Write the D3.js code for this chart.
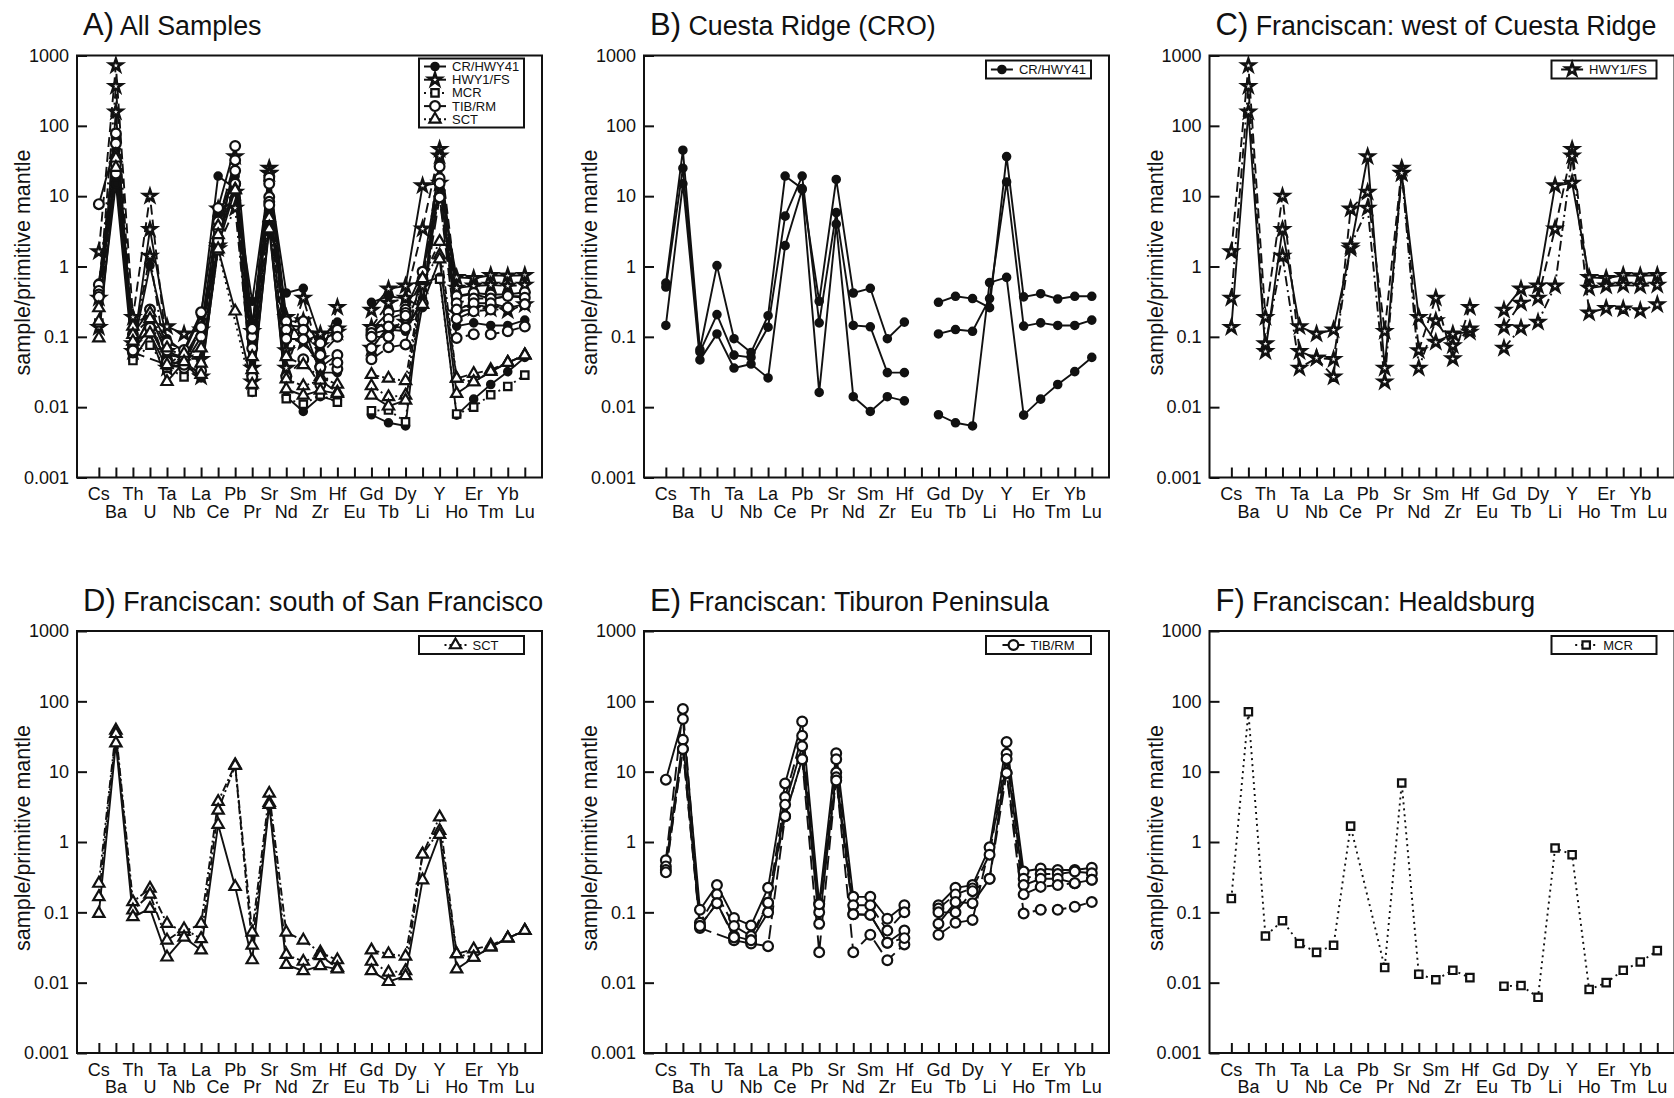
<!DOCTYPE html>
<html>
<head>
<meta charset="utf-8">
<script src="https://cdn.jsdelivr.net/npm/d3@7"></script>
<style>
body { margin:0; background:#fff; }
text { font-family: "Liberation Sans", Arial, Helvetica, sans-serif; fill:#111; }
</style>
</head>
<body>
<div class="container"></div>
<script>
// element order along the x axis
var elements = ["Cs","Ba","Th","U","Ta","Nb","La","Ce","Pb","Pr","Sr","Nd","Sm","Zr","Hf","Eu",
                "Gd","Tb","Dy","Li","Y","Ho","Er","Tm","Yb","Lu"];
var yTicks = [0.001, 0.01, 0.1, 1, 10, 100, 1000];
var yTickLabels = ["0.001","0.01","0.1","1","10","100","1000"];

// sample/primitive mantle values, one row per sample (null = not plotted)
var crSamples = [
  [0.58, 45, 0.066, 1.03, 0.094, 0.06, 0.2, 19.3, 12.8, 0.32, 17.3, 0.42, 0.49, 0.094, 0.162, null, 0.31, 0.377, 0.35, 0.26, 36.6, 0.37, 0.41, 0.345, 0.377, 0.377],
  [0.51, 25, 0.061, 0.207, 0.055, 0.051, 0.137, 5.2, 19.3, 0.158, 5.85, 0.145, 0.139, 0.031, 0.031, null, 0.11, 0.127, 0.12, 0.35, 15.9, 0.142, 0.158, 0.145, 0.145, 0.173],
  [0.145, 15, 0.047, 0.11, 0.036, 0.041, 0.026, 1.98, 12.4, 0.0162, 4.0, 0.0141, 0.0087, 0.0141, 0.0123, null, 0.0078, 0.006, 0.0054, 0.59, 0.70, 0.0077, 0.013, 0.021, 0.032, 0.051]
];
var hwySamples = [
  [0.137, 158, 0.062, 3.37, 0.14, 0.11, 0.126, 1.8, 36.6, 0.036, 21, 0.19, 0.084, 0.11, 0.117, null, 0.24, 0.48, 0.53, 14.1, 15.4, 0.70, 0.68, 0.75, 0.74, 0.75],
  [1.63, 720, 0.19, 10, 0.062, 0.05, 0.027, 6.6, 11.4, 0.12, 25, 0.064, 0.357, 0.049, 0.263, null, 0.137, 0.303, 0.357, 3.44, 46.4, 0.494, 0.53, 0.545, 0.53, 0.545],
  [0.357, 365, 0.08, 1.41, 0.036, 0.05, 0.048, 1.96, 6.8, 0.023, 21.3, 0.036, 0.17, 0.075, 0.13, null, 0.069, 0.134, 0.162, 0.53, 37.4, 0.219, 0.255, 0.25, 0.236, 0.288]
];
var mcrSamples = [
  [0.157, 71, 0.046, 0.076, 0.036, 0.027, 0.034, 1.68, null, 0.0164, 6.9, 0.0132, 0.011, 0.015, 0.0118, null, 0.0089, 0.0091, 0.0062, 0.82, 0.66, 0.008, 0.010, 0.015, 0.0197, 0.0285]
];
var tibSamples = [
  [7.7, 56, 0.109, 0.244, 0.083, 0.065, 0.223, 6.8, 51.6, 0.133, 18.3, 0.166, 0.166, 0.081, 0.126, null, 0.126, 0.223, 0.244, 0.84, 26.4, 0.38, 0.42, 0.40, 0.40, 0.43],
  [0.55, 78, 0.071, 0.18, 0.064, 0.046, 0.137, 4.35, 32.5, 0.1, 15, 0.126, 0.126, 0.055, 0.1, null, 0.113, 0.18, 0.219, 0.66, 18, 0.30, 0.35, 0.35, 0.38, 0.36],
  [0.45, 28.5, 0.064, 0.135, 0.046, 0.04, 0.1, 3.4, 23, 0.069, 9.7, 0.094, 0.092, 0.037, 0.055, null, 0.069, 0.14, 0.135, 0.30, 15.2, 0.244, 0.30, 0.30, 0.26, 0.29],
  [0.40, 21, 0.060, null, 0.040, 0.036, 0.033, 2.33, 15, 0.027, 8.3, 0.027, 0.048, 0.0208, 0.035, null, 0.048, 0.071, 0.078, null, 9.6, 0.096, 0.109, 0.109, 0.12, 0.14],
  [0.37, 21, 0.064, 0.135, 0.044, 0.04, 0.137, 2.33, 15, 0.13, 7.5, 0.094, 0.092, 0.037, 0.043, null, 0.1, 0.1, 0.20, 0.30, 9.6, 0.18, 0.23, 0.244, 0.26, 0.29]
];
var sctSamples = [
  [0.257, 38.7, 0.141, 0.219, 0.069, 0.053, 0.069, 3.75, 12.5, 0.052, 4.9, 0.052, 0.04, 0.027, 0.021, null, 0.029, 0.0256, 0.0237, 0.67, 2.26, 0.0256, 0.030, 0.034, 0.043, 0.055],
  [0.166, 34.6, 0.107, 0.18, 0.04, 0.058, 0.042, 2.82, 12.2, 0.034, 3.63, 0.025, 0.02, 0.024, 0.0163, null, 0.02, 0.014, 0.0147, 0.67, 1.45, 0.0256, 0.0228, 0.032, 0.043, 0.055],
  [0.096, 25.5, 0.086, 0.113, 0.023, 0.044, 0.029, 1.77, 0.231, 0.021, 3.4, 0.018, 0.0147, 0.0173, 0.0156, null, 0.0147, 0.0103, 0.0125, 0.288, 1.27, 0.0156, 0.0228, 0.032, 0.043, 0.055]
];

var groups = {
  cr:  {name:"CR/HWY41", samples:crSamples,  dash:["","",""], sym:d3.symbolCircle, size:45, sw:2, fill:"#111", legDash:""},
  hwy: {name:"HWY1/FS",  samples:hwySamples, dash:["","10,5","10,4,2,4"], sym:d3.symbolStar, size:48, sw:2.6, fill:"#fff", legDash:""},
  mcr: {name:"MCR",      samples:mcrSamples, dash:["2,4"], sym:d3.symbolSquare, size:55, sw:2.2, fill:"#fff", legDash:"2,4"},
  tib: {name:"TIB/RM",   samples:tibSamples, dash:["","14,6","","14,6","14,6"], sym:d3.symbolCircle, size:75, sw:2.2, fill:"#fff", legDash:""},
  sct: {name:"SCT",      samples:sctSamples, dash:["8,3,2,3","8,3,2,3",""], sym:d3.symbolTriangle, size:55, sw:2.2, fill:"#fff", legDash:"2,3"}
};

var panels = [
  {id:"A", title:"All Samples", x:77, y:55.5, keys:["cr","hwy","mcr","tib","sct"]},
  {id:"B", title:"Cuesta Ridge (CRO)", x:644, y:55.5, keys:["cr"]},
  {id:"C", title:"Franciscan: west of Cuesta Ridge", x:1209.5, y:55.5, keys:["hwy"]},
  {id:"D", title:"Franciscan: south of San Francisco", x:77, y:631, keys:["sct"]},
  {id:"E", title:"Franciscan: Tiburon Peninsula", x:644, y:631, keys:["tib"]},
  {id:"F", title:"Franciscan: Healdsburg", x:1209.5, y:631, keys:["mcr"]}
];

var W = 465, H = 422;

var svg = d3.select(".container").append("svg")
  .attr("width", 1674).attr("height", 1098);

var x = d3.scaleLinear().domain([0, 25]).range([0.047*W, 0.963*W]);
var y = d3.scaleLog().domain([0.001, 1000]).range([H, 0]);

var line = d3.line().x(function(d){ return x(d.i); }).y(function(d){ return y(d.v); });

// break at Eu, otherwise join over gaps
function segments(row) {
  var pts = row.map(function(v, i){ return {i:i, v:v}; });
  return [pts.slice(0, 15), pts.slice(16)].map(function(s){
    return s.filter(function(d){ return d.v != null; });
  });
}

function drawPanel(p) {
  var g = svg.append("g").attr("transform", "translate(" + p.x + "," + p.y + ")");

  // title
  var t = g.append("text").attr("x", 6).attr("y", -20.5);
  t.append("tspan").style("font-size", "31px").text(p.id + ")");
  t.append("tspan").style("font-size", "26.8px").text(" " + p.title);

  // y axis
  var ya = g.append("g")
    .call(d3.axisLeft(y).tickValues(yTicks)
      .tickFormat(function(d, i){ return yTickLabels[i]; })
      .tickSizeInner(-10).tickSizeOuter(0).tickPadding(8));
  ya.select(".domain").remove();
  ya.selectAll("line").attr("stroke", "#111").attr("stroke-width", 2);
  ya.selectAll("text").style("font-size", "18px").style("font-family", "'Liberation Sans', Arial, sans-serif");

  // x axis ticks
  var xa = g.append("g").attr("transform", "translate(0," + H + ")")
    .call(d3.axisBottom(x).tickValues(d3.range(elements.length))
      .tickFormat("").tickSizeInner(-10).tickSizeOuter(0));
  xa.select(".domain").remove();
  xa.selectAll("line").attr("stroke", "#111").attr("stroke-width", 2);

  g.selectAll("text.xl").data(elements).enter().append("text")
    .attr("class", "xl")
    .attr("x", function(d, i){ return x(i); })
    .attr("y", function(d, i){ return H + (i % 2 === 0 ? 22.5 : 40); })
    .attr("text-anchor", "middle")
    .style("font-size", "18px")
    .text(function(d){ return d; });

  // y label
  g.append("text")
    .attr("transform", "translate(-47," + (H/2 - 4) + ") rotate(-90)")
    .attr("text-anchor", "middle")
    .style("font-size", "21.5px")
    .text("sample/primitive mantle");

  // data
  p.keys.forEach(function(k){
    var grp = groups[k];
    grp.samples.forEach(function(row, si){
      segments(row).forEach(function(seg){
        g.append("path").datum(seg)
          .attr("d", line)
          .attr("fill", "none")
          .attr("stroke", "#111")
          .attr("stroke-width", 1.9)
          .attr("stroke-dasharray", grp.dash[si] || null);
      });
    });
  });
  p.keys.forEach(function(k){
    var grp = groups[k];
    grp.samples.forEach(function(row){
      var pts = row.map(function(v, i){ return {i:i, v:v}; }).filter(function(d){ return d.v != null; });
      g.selectAll(null).data(pts).enter().append("path")
        .attr("d", d3.symbol().type(grp.sym).size(grp.size)())
        .attr("transform", function(d){ return "translate(" + x(d.i) + "," + y(d.v) + ")"; })
        .attr("fill", grp.fill)
        .attr("stroke", "#111")
        .attr("stroke-width", grp.sw);
    });
  });

  // frame
  g.append("rect").attr("width", W).attr("height", H)
    .attr("fill", "none").attr("stroke", "#111").attr("stroke-width", 2);

  // legend
  var lw = 105, multi = p.keys.length > 1;
  var lh = multi ? 69 : 18;
  var lg = g.append("g").attr("transform", "translate(" + (W - 18 - lw) + "," + (multi ? 3 : 5) + ")");
  lg.append("rect").attr("width", lw).attr("height", lh)
    .attr("fill", "#fff").attr("stroke", "#111").attr("stroke-width", 2);
  p.keys.forEach(function(k, i){
    var grp = groups[k];
    var ry = multi ? 8 + i * 13.2 : 9;
    var row = lg.append("g");
    row.append("line").attr("x1", 0).attr("x2", 22).attr("y1", ry).attr("y2", ry)
      .attr("stroke", "#111").attr("stroke-width", 2)
      .attr("stroke-dasharray", grp.legDash || null);
    row.append("path").attr("d", d3.symbol().type(grp.sym).size(grp.size)())
      .attr("transform", "translate(11," + ry + ")")
      .attr("fill", grp.fill).attr("stroke", "#111").attr("stroke-width", grp.sw);
    var tx = row.append("text").attr("x", 28).attr("y", ry + 4.5)
      .style("font-size", "13px").text(grp.name);
    if (multi) {
      row.attr("transform", "translate(5,0)");
    } else {
      var cw = 28 + tx.node().getComputedTextLength();
      row.attr("transform", "translate(" + ((lw - cw) / 2) + ",0)");
    }
  });
}

panels.forEach(drawPanel);
</script>
</body>
</html>
